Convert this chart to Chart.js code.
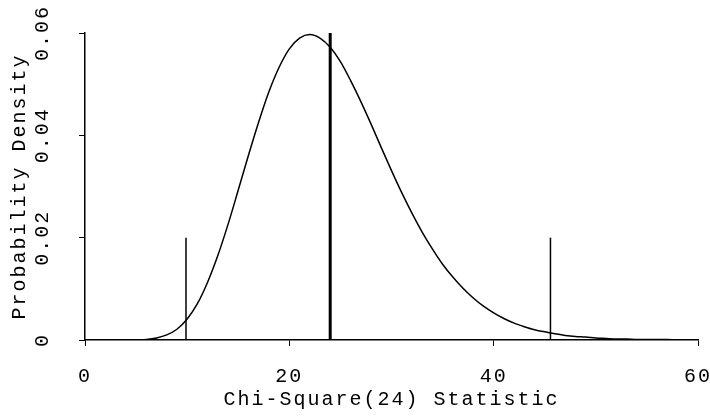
<!DOCTYPE html>
<html>
<head>
<meta charset="utf-8">
<script src="https://cdn.jsdelivr.net/npm/chart.js@4/dist/chart.umd.min.js"></script>
<style>body{margin:0;background:#fff}canvas{display:block}</style>
</head>
<body>
<canvas id="chiChart" width="710" height="416"></canvas>
<script>
// chi-square(24) density, one point per unit of x
const xs=[0,1,2,3,4,5,6,7,8,9,10,11,12,13,14,15,16,17,18,19,20,21,22,23,24,25,26,27,28,29,30,31,32,33,34,35,36,37,38,39,40,41,42,43,44,45,46,47,48,49,50,51,52,53,54,55,56,57,58,59,60];
const density=[0,0,0,0,0,0,0.0001,0.0004,0.0010,0.0021,0.0041,0.0071,0.0113,0.0165,0.0226,0.0293,0.0361,0.0426,0.0485,0.0533,0.0569,0.0590,0.0597,0.0590,0.0572,0.0544,0.0507,0.0466,0.0422,0.0376,0.0331,0.0288,0.0248,0.0211,0.0178,0.0148,0.0123,0.0101,0.0082,0.0066,0.0053,0.0042,0.0033,0.0026,0.0020,0.0016,0.0012,0.0009,0.0007,0.0006,0.0004,0.0003,0.0002,0.0002,0.0001,0.0001,0.0001,0.0001,0,0,0];
// reference markers: observed statistic and the two critical values
const statX=24, statTop=0.06;
const critX=[9.886,45.559], critTop=0.02;
const xTicks=[0,20,40,60];
const yTicks=[0,0.02,0.04,0.06], yTickLabels=['0','0.02','0.04','0.06'];

const FONT={family:'"Liberation Mono", monospace',size:20};
const INK='#000';
const GAP='2px';

const vline=(x,top,w)=>({data:[{x,y:0},{x,y:top}],borderColor:INK,borderWidth:w,pointRadius:0,borderCapStyle:'butt'});

const spacing={id:'spacing',beforeDraw:c=>{c.ctx.letterSpacing=GAP}};
const yLabels={id:'yLabels',afterDraw:c=>{
  const {ctx}=c, s=c.scales.y;
  ctx.save();ctx.font=`${FONT.size}px ${FONT.family}`;ctx.fillStyle=INK;ctx.letterSpacing=GAP;
  ctx.textAlign='center';ctx.textBaseline='middle';
  yTicks.forEach((v,i)=>{ctx.save();ctx.translate(43,s.getPixelForValue(v));ctx.rotate(-Math.PI/2);ctx.fillText(yTickLabels[i],0,0);ctx.restore()});
  ctx.restore();
}};

new Chart(document.getElementById('chiChart'),{
  type:'line',
  data:{datasets:[
    {data:xs.map((x,i)=>({x,y:density[i]})),borderColor:INK,borderWidth:1.5,pointRadius:0,cubicInterpolationMode:'monotone'},
    vline(statX,statTop,3),
    ...critX.map(x=>vline(x,critTop,1.5))
  ]},
  options:{
    responsive:false,animation:false,
    layout:{padding:{top:33,right:12,left:0,bottom:0}},
    plugins:{legend:{display:false},tooltip:{enabled:false}},
    scales:{
      x:{type:'linear',min:0,max:60,
        afterBuildTicks:s=>{s.ticks=xTicks.map(value=>({value}))},
        ticks:{color:INK,font:FONT,padding:19,maxRotation:0},
        grid:{drawOnChartArea:false,drawTicks:true,tickLength:6,color:INK,lineWidth:1},
        border:{display:true,color:INK,width:1.5},
        title:{display:true,text:'Chi-Square(24) Statistic',color:INK,font:FONT,padding:{top:0,bottom:4}},
        afterFit:s=>{s.height=76;s.paddingLeft=0;s.paddingRight=0}},
      y:{type:'linear',min:0,max:0.06,
        afterBuildTicks:s=>{s.ticks=yTicks.map(value=>({value}))},
        ticks:{display:false},
        grid:{drawOnChartArea:false,drawTicks:true,tickLength:6,color:INK,lineWidth:1},
        border:{display:true,color:INK,width:1.5},
        title:{display:true,text:'Probability Density',color:INK,font:FONT,padding:{top:8,bottom:0}},
        afterFit:s=>{s.width=85;s.paddingTop=0;s.paddingBottom=0}}
    }
  },
  plugins:[spacing,yLabels]
});
</script>
</body>
</html>
